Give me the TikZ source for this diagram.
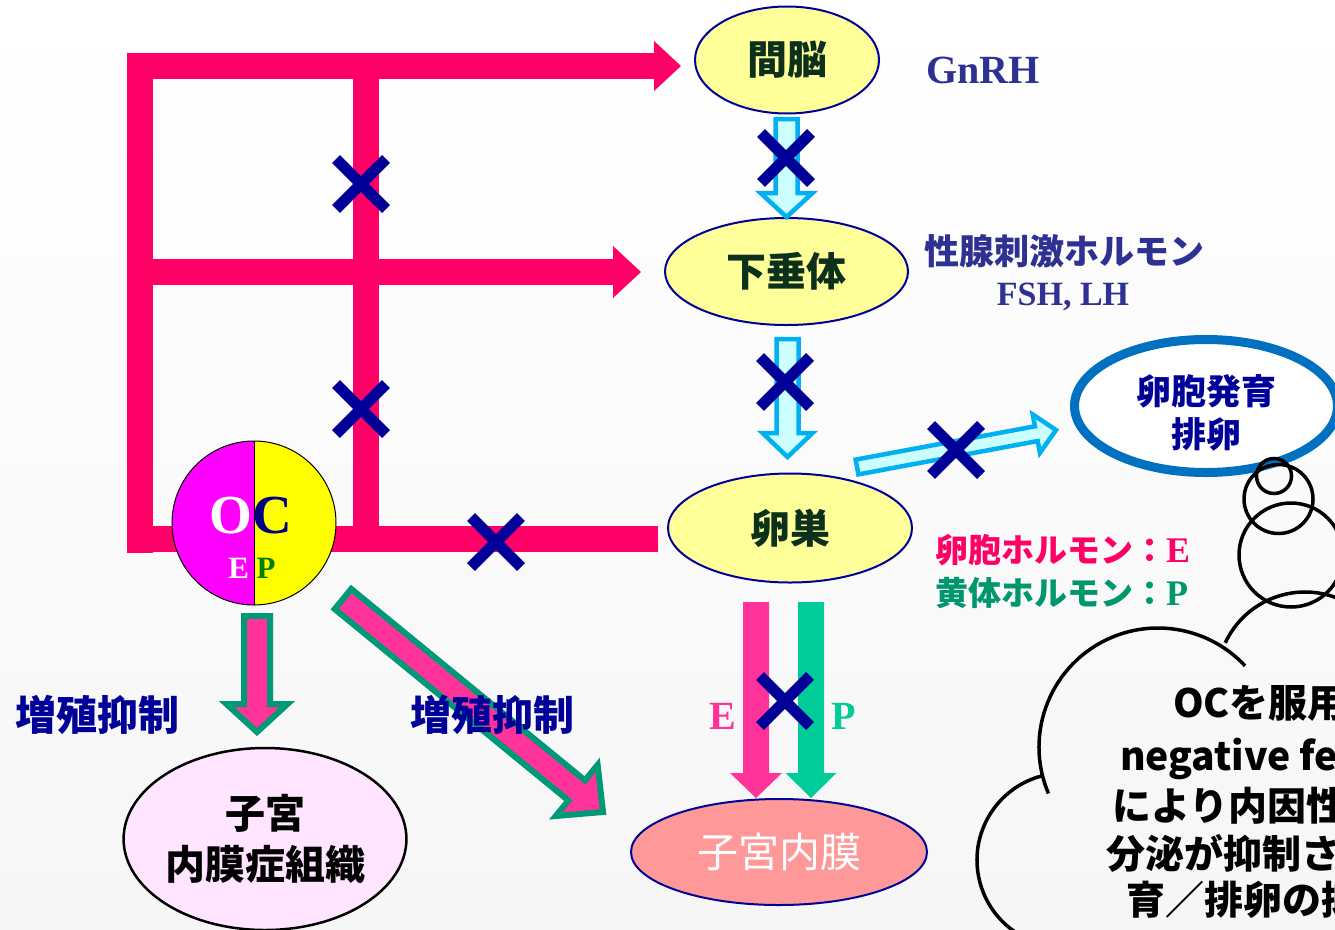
\documentclass[tikz,border=0pt]{standalone}
\usepackage{fontspec}
\newfontfamily\jp{Noto Sans CJK JP}
\newfontfamily\tms{Liberation Serif}
\usetikzlibrary{shapes.geometric,calc,arrows.meta}
\definecolor{fpink}{RGB}{255,0,102}
\definecolor{navyb}{RGB}{0,0,153}
\definecolor{lyel}{RGB}{255,255,153}
\definecolor{dgreen}{RGB}{12,48,28}
\definecolor{icecyan}{RGB}{204,255,255}
\definecolor{skyb}{RGB}{0,176,240}
\definecolor{hotpink}{RGB}{255,51,153}
\definecolor{tealg}{RGB}{0,153,119}
\definecolor{mint}{RGB}{0,204,153}
\definecolor{labblue}{RGB}{46,49,146}
\definecolor{fblue}{RGB}{0,112,192}
\definecolor{ptext}{RGB}{0,150,110}
\definecolor{salmon}{RGB}{255,153,153}
\definecolor{lilac}{RGB}{255,229,255}
\definecolor{ocmag}{RGB}{255,0,255}
\definecolor{ocyel}{RGB}{255,255,0}
\definecolor{ocnavy}{RGB}{0,0,128}
\definecolor{ocgreen}{RGB}{0,128,0}
\definecolor{bggray}{RGB}{246,246,246}
\newcommand{\fsz}[2]{\fontsize{#1}{#2}\selectfont}
\newcommand{\blockarr}[6][]{%
	\coordinate (hb) at ($(#3)!#6!(#2)$);
	\filldraw[#1] ($(#2)!#4!90:(#3)$) -- ($(hb)!#4!90:(#3)$) -- ($(hb)!#5!90:(#3)$) -- (#3)
		-- ($(hb)!#5!-90:(#3)$) -- ($(hb)!#4!-90:(#3)$) -- ($(#2)!#4!-90:(#3)$) -- cycle;}
\begin{document}
\begin{tikzpicture}[x=1pt, y=-1pt, line join=miter,
	oval/.style={ellipse, draw=navyb, line width=2pt, fill=lyel, inner sep=0pt, text=dgreen, font=\jp\bfseries\fsz{40}{48}},
	lblue/.style={fill=icecyan, draw=skyb, line width=4.5pt},
	outpink/.style={fill=hotpink, draw=tealg, line width=6pt},
	xmk/.style={navyb, line width=11pt},
	lab/.style={inner sep=0pt, text=labblue},
	bar/.style={fpink, line width=26pt},
	cloudtxt/.style={anchor=west, inner sep=0pt, font=\jp\bfseries\fsz{39}{46}}]
	\useasboundingbox (0,0) rectangle (1335,929);
	\clip (0,0) rectangle (1335,929);
	\shade[top color=white, bottom color=bggray] (0,0) rectangle (1335,929);
	\node[oval, minimum width=184pt, minimum height=107pt] (brain) at (787,60) {間脳};
	\node[oval, minimum width=243pt, minimum height=107pt] (pit) at (786.5,271.5) {下垂体};
	\node[oval, minimum width=244pt, minimum height=109pt] (ovary) at (790,528) {卵巣};
	\node[oval, fill=salmon, text=white, font=\jp\fsz{41}{48}, minimum width=296pt, minimum height=106pt] (endo) at (779,852) {子宮内膜};
	\node[ellipse, draw=black, line width=2.5pt, fill=lilac, inner sep=0pt, align=center, font=\jp\bfseries\fsz{40}{51}, minimum width=278pt, minimum height=182pt] (lesion) at (265,839) {子宮\\内膜症組織};
	\node[ellipse, draw=fblue, line width=9pt, fill=white, inner sep=0pt, minimum width=263pt, minimum height=133pt] (foll) at (1206,406) {};
	\node[align=center, inner sep=0pt, text=navyb, font=\jp\bfseries\fsz{35}{43}] (follt) at ([yshift=-7pt]foll.center) {卵胞発育\\排卵};
	\path (140,553) coordinate (f0) (140,66) coordinate (f1) (681,66) coordinate (g1)
		(140,272) coordinate (f2) (641,272) coordinate (g2)
		(140,539) coordinate (f3) (658,539) coordinate (g3)
		(366,66) coordinate (f4) (366,539) coordinate (f5);
	\draw[bar, -{Triangle[length=27pt,width=50pt,line width=0pt]}] (f0) -- (f1) -- (g1);
	\draw[bar, -{Triangle[length=28pt,width=52pt,line width=0pt]}] (f2) -- (g2);
	\draw[bar] (f3) -- (g3) (f4) -- (f5);
	\node[circle, draw, line width=1pt, minimum size=164pt, inner sep=0pt, path picture={
		\fill[ocmag] (path picture bounding box.north west) rectangle (path picture bounding box.south);
		\fill[ocyel] (path picture bounding box.north) rectangle (path picture bounding box.south east);
		\draw (path picture bounding box.north) -- (path picture bounding box.south);}] (oc) at (254,523) {};
	\node[anchor=base, inner sep=0pt, font=\tms\bfseries\fsz{55}{60}] (octxt) at (250.5,533) {\textcolor{white}{O}\textcolor{ocnavy}{C}};
	\node[anchor=base, inner sep=0pt, font=\tms\bfseries\fsz{31}{36}] (ocep) at (252,578) {\textcolor{white}{E} \textcolor{ocgreen}{P}};
	\path (786.5,119) coordinate (c1) (pit.north) coordinate (c2)
		(787.5,339) coordinate (c3) (787.5,457) coordinate (c4)
		(857,467) coordinate (c5) (1056,430) coordinate (c6)
		(257,616) coordinate (d1) (257,732) coordinate (d2)
		(343,599) coordinate (d3) (603,812) coordinate (d4)
		(756,602) coordinate (e1) (756,798) coordinate (e2)
		(811,602) coordinate (p1) (811,798) coordinate (p2);
	\blockarr[lblue]{c1}{c2}{11pt}{26pt}{24pt}
	\blockarr[lblue]{c3}{c4}{11pt}{25pt}{24pt}
	\blockarr[lblue]{c5}{c6}{7.5pt}{19.5pt}{20pt}
	\blockarr[outpink]{d1}{d2}{13pt}{30.5pt}{28pt}
	\blockarr[outpink]{d3}{d4}{13pt}{33pt}{34pt}
	\blockarr[fill=hotpink, draw=none]{e1}{e2}{13pt}{26pt}{25pt}
	\blockarr[fill=mint, draw=none]{p1}{p2}{13pt}{25.5pt}{25pt}
	\foreach \x/\y in {361/184,361/409,496/542,786/158,785/382,956/450,785/701}
		\draw[xmk] (\x,\y) +(-25,-25) -- +(25,25) (\x,\y) +(-25,25) -- +(25,-25);
	\node[lab, anchor=base, font=\tms\bfseries\fsz{40}{48}] (gnrh) at (983,83) {GnRH};
	\node[lab, font=\jp\bfseries\fsz{35}{42}] (gonad) at (1064,251) {性腺刺激ホルモン};
	\node[lab, anchor=base, font=\tms\bfseries\fsz{34}{40}] (fsh) at (1063,305) {FSH, LH};
	\node[lab, anchor=west, text=fpink, font=\jp\bfseries\fsz{33}{40}] (ehorm) at (935,550) {卵胞ホルモン：{\tms\fsz{36}{40}E}};
	\node[lab, anchor=west, text=ptext, font=\jp\bfseries\fsz{33}{40}] (phorm) at (935,593) {黄体ホルモン：{\tms\fsz{36}{40}P}};
	\node[lab, anchor=base, text=hotpink, font=\tms\bfseries\fsz{40}{48}] (elab) at (722.7,729) {E};
	\node[lab, anchor=base, text=mint, font=\tms\bfseries\fsz{40}{48}] (plab) at (844,729) {P};
	\node[lab, text=navyb, font=\jp\bfseries\fsz{41}{48}] (sup1) at (97,715) {増殖抑制};
	\node[lab, text=navyb, font=\jp\bfseries\fsz{41}{48}] (sup2) at (492,715) {増殖抑制};
	\draw[line width=3.5pt] (1274,476) circle[radius=17.5] (1278.5,499) circle[radius=34.5] (1291,555) circle[radius=52];
	\draw[line width=3.5pt] (1305,680) ++(205:88) arc[start angle=205, end angle=340, radius=88];
	\draw[line width=3.5pt] (1158,747) ++(157:119) arc[start angle=157, end angle=317, radius=119];
	\draw[line width=3.5pt] (1064,860) ++(256:87) arc[start angle=256, end angle=100, radius=87];
	\node[cloudtxt] (t1) at (1173,703) {OCを服用};
	\node[cloudtxt] (t2) at (1120,759) {negative fee};
	\node[cloudtxt] (t3) at (1112,806) {により内因性};
	\node[cloudtxt] (t4) at (1106,853) {分泌が抑制さ};
	\node[cloudtxt] (t5) at (1126,900) {育／排卵の抑};
\end{tikzpicture}
\end{document}
